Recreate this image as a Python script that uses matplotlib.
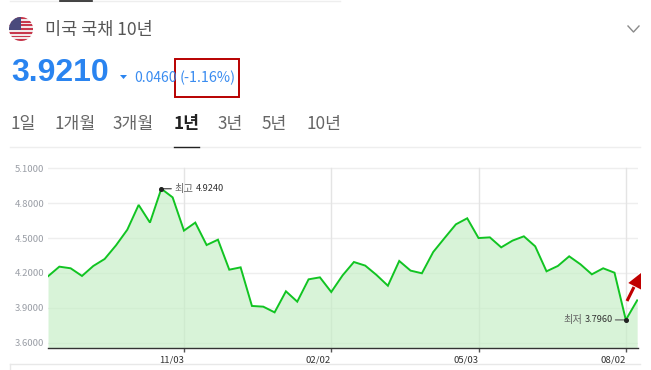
import matplotlib
matplotlib.use("Agg")
import matplotlib.pyplot as plt
from matplotlib.patches import Circle, Polygon, Rectangle
import numpy as np

plt.rcParams['font.family'] = ['Noto Sans CJK KR', 'DejaVu Sans']

yields = [4.171, 4.254, 4.240, 4.174, 4.260, 4.320, 4.437, 4.572, 4.785, 4.633,
          4.924, 4.850, 4.564, 4.633, 4.440, 4.486, 4.228, 4.248, 3.916, 3.910,
          3.861, 4.042, 3.953, 4.145, 4.162, 4.036, 4.179, 4.294, 4.263, 4.182,
          4.090, 4.303, 4.220, 4.197, 4.380, 4.500, 4.618, 4.670, 4.500, 4.506,
          4.420, 4.478, 4.515, 4.429, 4.214, 4.260, 4.343, 4.274, 4.188, 4.240,
          4.202, 3.796, 3.964]
y_ticks = [5.1, 4.8, 4.5, 4.2, 3.9, 3.6]
date_pos = [12, 25, 38, 51]
date_labels = ['11/03', '02/02', '05/03', '08/02']
periods = ['1일', '1개월', '3개월', '1년', '3년', '5년', '10년']
period_x = [10, 54, 113, 174, 218, 262, 306]
high_idx = 10
low_idx = 51

W, H = 651, 370
fig = plt.figure(figsize=(W / 100, H / 100), dpi=100, facecolor='white')

# pixel overlay for the page parts around the chart
page = fig.add_axes([0, 0, 1, 1], zorder=3)
page.set_xlim(0, W)
page.set_ylim(H, 0)
page.axis('off')

# chart, placed by pixels
left, right, top, bottom = 48, 638, 161, 348.3
ax = fig.add_axes([left / W, 1 - bottom / H, (right - left) / W, (bottom - top) / H], zorder=2)
ax.patch.set_alpha(0)
px_per_unit = (342.7 - 168.3) / 1.5
ax.set_ylim(3.6 - (bottom - 342.7) / px_per_unit, 5.1 + (168.3 - top) / px_per_unit)
x = np.arange(len(yields))
ax.set_xlim(0, (right - left) / 11.33)

for t in y_ticks:
    ax.axhline(t, color='#eeeeee', lw=1, zorder=1)
for p in date_pos:
    ax.axvline(p, color='#e4e4e4', lw=1, ymax=(bottom - 168.3) / (bottom - top), zorder=1)

ax.fill_between(x, yields, ax.get_ylim()[0], color='#c4eec4', alpha=0.65, lw=0, zorder=2)
ax.plot(x, yields, color='#11c422', lw=1.4, zorder=3, solid_joinstyle='miter')

for s in ['top', 'left', 'right']:
    ax.spines[s].set_visible(False)
ax.spines['bottom'].set_color('#333333')
ax.spines['bottom'].set_linewidth(1)
ax.set_yticks(y_ticks)
ax.set_yticklabels(['%.4f' % t for t in y_ticks], fontsize=6.9, color='#9a9ea6')
ax.tick_params(axis='y', length=0, pad=2.5)
ax.set_xticks(date_pos)
ax.set_xticklabels(date_labels, fontsize=6.9, color='#333333', ha='right')
ax.tick_params(axis='x', length=3, width=1, color='#555555', pad=2)

# high and low markers
ax.plot([high_idx, low_idx], [yields[high_idx], yields[low_idx]], 'o', color='#222222', ms=2.6, zorder=4)
ax.annotate('', xy=(high_idx, yields[high_idx]), xytext=(7.2, 0), textcoords='offset points',
            arrowprops=dict(arrowstyle='-', color='#333333', lw=0.8, shrinkA=0, shrinkB=0))
ax.annotate('', xy=(low_idx, yields[low_idx]), xytext=(-7.5, 0), textcoords='offset points',
            arrowprops=dict(arrowstyle='-', color='#666666', lw=0.9, shrinkA=0, shrinkB=0))
ax.annotate('최고', xy=(high_idx, yields[high_idx]), xytext=(9.4, 0), textcoords='offset points',
            fontsize=7.4, color='#666666', va='center')
ax.annotate('%.4f' % yields[high_idx], xy=(high_idx, yields[high_idx]), xytext=(24.5, 0),
            textcoords='offset points', fontsize=6.6, color='#333333', va='center')
ax.annotate('최저', xy=(low_idx, yields[low_idx]), xytext=(-31, 0), textcoords='offset points',
            fontsize=7.4, color='#666666', va='center', ha='right')
ax.annotate('%.4f' % yields[low_idx], xy=(low_idx, yields[low_idx]), xytext=(-9, 0),
            textcoords='offset points', fontsize=6.6, color='#333333', va='center', ha='right')

# flag
clip = Circle((21, 29), 12, transform=page.transData)
page.add_patch(Rectangle((9, 17), 24, 24, color='#f2e9ea', lw=0, clip_path=clip))
for y0 in np.arange(17, 41, 3.7):
    page.add_patch(Rectangle((9, y0), 24, 1.9, color='#c8384c', lw=0, clip_path=clip))
page.add_patch(Rectangle((9, 17), 12, 12.5, color='#4a4a7c', lw=0, clip_path=clip))

# header
page.text(45, 30.5, '미국 국채 10년', fontsize=12.6, color='#555555', va='center')
page.plot([628, 633.5, 639], [26, 32, 26], color='#8a8a8a', lw=1)
page.text(11, 73, '3.9210', fontsize=23, fontweight='bold', color='#2a84f0', va='center',
          family='Liberation Sans')
page.add_patch(Polygon([[120, 75], [127, 75], [123.5, 79]], color='#2a84f0', lw=0))
page.text(134, 78, '0.0460', fontsize=10, color='#3a8cf0', va='center')
page.text(180, 78, '(-1.16%)', fontsize=10.4, color='#3a8cf0', va='center')
page.add_patch(Rectangle((175, 59), 64, 38, fill=False, ec='#b80000', lw=1.4))

# period tabs
for name, px in zip(periods, period_x):
    sel = name == '1년'
    page.text(px, 124.5, name, fontsize=12.4, va='center', color='#222222' if sel else '#666666',
              fontweight='bold' if sel else 'normal')
page.plot([10, 640], [147, 147], color='#eeeeee', lw=1)
page.plot([174, 199], [147, 147], color='#222222', lw=1)

# page edges
page.plot([10, 640], [363.5, 363.5], color='#e8e8e8', lw=1)
page.plot([10, 10], [363.5, 370], color='#e8e8e8', lw=1)
page.plot([10, 340], [0.5, 0.5], color='#eeeeee', lw=1)
page.plot([60, 92], [0.5, 0.5], color='#222222', lw=1.2)

# red arrow, runs off the edge
page.plot([627, 634], [301, 287], color='#c00000', lw=2.2, solid_capstyle='butt')
page.add_patch(Polygon([[628.3, 283], [641, 273], [641, 289.5]], color='#c00000', lw=0))

fig.savefig('out.png', dpi=100)
